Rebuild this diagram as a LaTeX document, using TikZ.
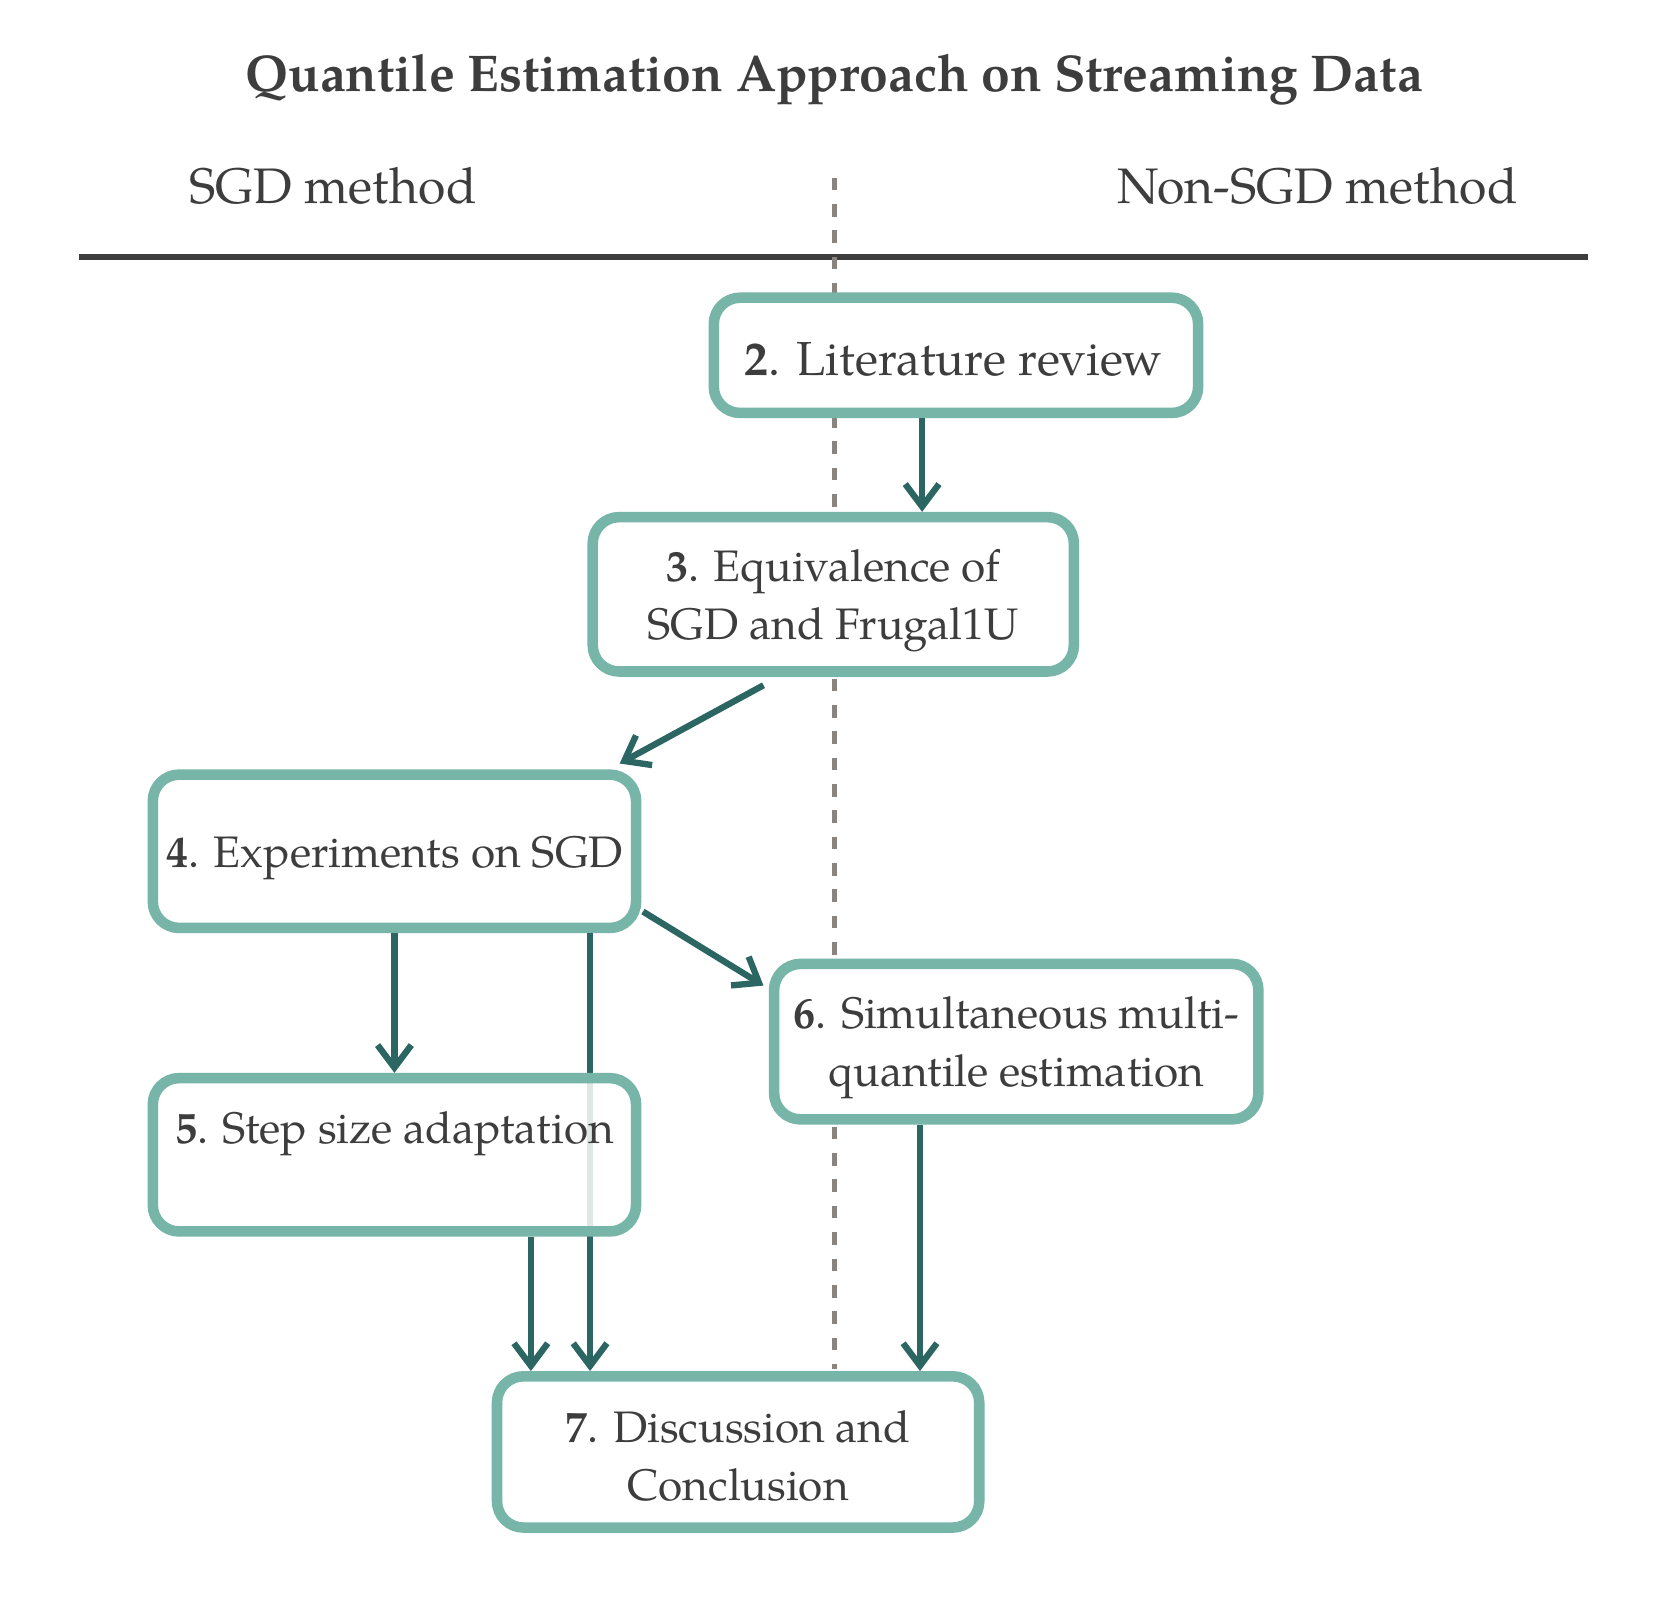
\documentclass[tikz,border=0pt]{standalone}
\usepackage{fontspec}
\setmainfont{TeX Gyre Pagella}
\usetikzlibrary{arrows.meta}
\definecolor{boxc}{HTML}{76B5A8}
\definecolor{arrc}{HTML}{2B6662}
\definecolor{txtc}{HTML}{3D3D3D}
\definecolor{dashc}{HTML}{8A8480}
\newcommand\pxu{0.010575cm}
\tikzset{
  stepbox/.style={draw=boxc, line width=3.0pt, rounded corners=7.5pt, fill=white, inner sep=0pt},
  flow/.style={draw=arrc, line width=1.8pt, -{Straight Barb[length=6.4pt,width=9.6pt,line width=1.8pt]}},
  lbl/.style={text=txtc, align=center, inner sep=0pt, font=\fontsize{12.55}{16.4}\selectfont},
  hdr/.style={text=txtc, font=\fontsize{14.2}{17}\selectfont}
}
\begin{document}
\begin{tikzpicture}[x=0.010575cm,y=-0.010575cm]
\useasboundingbox (0,0) rectangle (1566,1509.3);
\fill[white] (0,0) rectangle (1566,1509.3);
% title and headers
\node[hdr, font=\fontsize{14.7}{17}\selectfont\bfseries] (title) at (789,75) {Quantile Estimation Approach on Streaming Data};
\node[hdr] (sgd) at (315,176) {SGD method};
\node[hdr] (nsgd) at (1246,176) {Non-SGD method};
\coordinate (hl) at (75,243);
\coordinate (hr) at (1502,243);
\draw[draw=txtc, line width=1.5pt] (hl) -- (hr);
\coordinate (dt) at (789,168);
\coordinate (db) at (789,1295);
\draw[draw=dashc, line width=1.5pt, dash pattern=on 3.6pt off 3.9pt] (dt) -- (db);
% boxes
\node[stepbox, minimum width=458*\pxu, minimum height=109*\pxu] (b2) at (904,336) {};
\node[lbl, font=\fontsize{13.6}{17}\selectfont] (t2) at (902,340) {\textbf{2}. Literature review};
\node[stepbox, minimum width=455*\pxu, minimum height=146*\pxu] (b3) at (788,562) {};
\node[lbl] (t3) at (788,568) {\textbf{3}. Equivalence of\\SGD and Frugal1U};
\node[stepbox, minimum width=457*\pxu, minimum height=145*\pxu] (b4) at (373,805) {};
\node[lbl] (t4) at (373,811) {\textbf{4}. Experiments on SGD};
\node[stepbox, minimum width=458*\pxu, minimum height=147*\pxu] (b6) at (961,985) {};
\node[lbl] (t6) at (961,991) {\textbf{6}. Simultaneous multi-\\quantile estimation};
\node[stepbox, minimum width=456*\pxu, minimum height=143*\pxu] (b7) at (698,1373) {};
\node[lbl] (t7) at (698,1377) {\textbf{7}. Discussion and\\Conclusion};
% arrow 4 -> 7 passing behind box 5
\draw[flow] (b4.south -| 558,0) -- (b7.north -| 558,0);
\node[stepbox, fill opacity=0.85, minimum width=457*\pxu, minimum height=145*\pxu] (b5) at (373,1092) {};
\node[lbl] (t5) at (373,1072) {\textbf{5}. Step size adaptation};
% arrows
\draw[flow] (b2.south -| 872,0) -- (b3.north -| 872,0);
\coordinate (a3s) at (722,648);
\coordinate (a4n) at (586,722);
\draw[flow] (a3s) -- (a4n);
\draw[flow] (b4.south) -- (b5.north);
\coordinate (a4e) at (608,862);
\coordinate (a6w) at (722,932);
\draw[flow] (a4e) -- (a6w);
\draw[flow] (b5.south -| 502,0) -- (b7.north -| 502,0);
\draw[flow] (b6.south -| 870,0) -- (b7.north -| 870,0);
\end{tikzpicture}
\end{document}
